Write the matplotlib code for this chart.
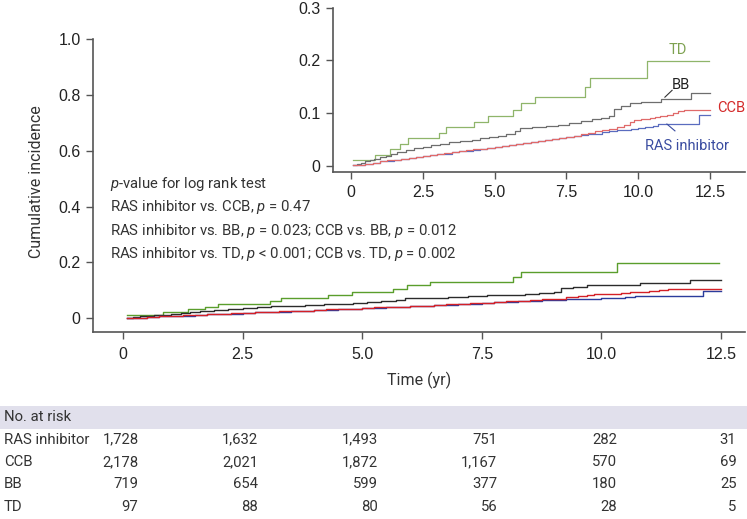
import matplotlib
matplotlib.use("Agg")
import matplotlib.pyplot as plt
import matplotlib.transforms as mtransforms

# ---------------- data ----------------
td_t = [0.08, 0.84, 1.36, 1.71, 1.99, 3.07, 3.31, 4.29, 4.78, 5.64, 5.93, 6.41, 8.15, 8.32, 10.32, 12.45]
td_v = [0.010, 0.020, 0.031, 0.041, 0.052, 0.062, 0.073, 0.083, 0.094, 0.106, 0.118, 0.131, 0.149, 0.167, 0.199, 0.199]

bb_t = [0.08, 0.2, 0.35, 0.5, 0.65, 0.8, 1.0, 1.2, 1.4, 1.6, 1.9, 2.2, 2.5, 2.8, 3.1, 3.4, 3.8, 4.2, 4.5, 4.8,
        5.1, 5.4, 5.7, 5.9, 6.3, 6.8, 7.2, 7.6, 8.0, 8.4, 8.7, 9.0, 9.15, 9.4, 9.7, 10.1, 10.8, 11.85, 12.5]
bb_v = [0.002, 0.004, 0.006, 0.008, 0.010, 0.012, 0.016, 0.019, 0.022, 0.026, 0.030, 0.033, 0.036, 0.039,
        0.042, 0.045, 0.047, 0.049, 0.052, 0.055, 0.057, 0.060, 0.066, 0.071, 0.073, 0.075, 0.078, 0.081,
        0.084, 0.088, 0.091, 0.095, 0.108, 0.113, 0.118, 0.120, 0.127, 0.137, 0.137]

ccb_t = [0.08, 0.25, 0.5, 0.75, 1.0, 1.25, 1.5, 1.75, 2.0, 2.25, 2.5, 2.75, 3.0, 3.25, 3.5, 3.75, 4.0, 4.25,
         4.5, 4.75, 5.0, 5.25, 5.5, 5.75, 6.0, 6.25, 6.5, 6.75, 7.0, 7.25, 7.5, 7.75, 8.0, 8.25, 8.5, 8.75,
         9.0, 9.25, 9.5, 9.7, 9.85, 10.1, 10.4, 10.6, 10.75, 11.0, 11.2, 11.4, 11.6, 12.5]
ccb_v = [0.001, 0.002, 0.004, 0.006, 0.008, 0.010, 0.011, 0.013, 0.015, 0.017, 0.019, 0.020, 0.022, 0.024,
         0.025, 0.027, 0.029, 0.031, 0.032, 0.034, 0.036, 0.038, 0.040, 0.041, 0.043, 0.045, 0.047, 0.049,
         0.051, 0.053, 0.055, 0.057, 0.060, 0.062, 0.065, 0.067, 0.070, 0.074, 0.078, 0.083, 0.086, 0.088,
         0.091, 0.093, 0.095, 0.096, 0.100, 0.103, 0.105, 0.105]

ras_t = [0.08, 0.25, 0.5, 0.75, 1.0, 1.25, 1.5, 1.75, 2.0, 2.25, 2.5, 2.75, 3.0, 3.25, 3.5, 3.75, 4.0, 4.25,
         4.5, 4.75, 5.0, 5.25, 5.5, 5.75, 6.0, 6.25, 6.5, 6.75, 7.0, 7.25, 7.5, 7.75, 8.0, 8.25, 8.5, 8.75,
         9.0, 9.25, 9.5, 9.75, 10.0, 10.25, 10.5, 10.7, 12.13, 12.5]
ras_v = [0.001, 0.002, 0.004, 0.006, 0.008, 0.009, 0.011, 0.013, 0.015, 0.016, 0.018, 0.020, 0.022, 0.023,
         0.025, 0.027, 0.028, 0.030, 0.032, 0.034, 0.035, 0.037, 0.039, 0.041, 0.043, 0.044, 0.046, 0.048,
         0.050, 0.052, 0.054, 0.056, 0.058, 0.060, 0.061, 0.063, 0.065, 0.067, 0.068, 0.070, 0.071, 0.073,
         0.075, 0.079, 0.096, 0.096]

x_ticks = [0, 2.5, 5.0, 7.5, 10.0, 12.5]
x_ticklabels = ["0", "2.5", "5.0", "7.5", "10.0", "12.5"]
main_yticks = [0, 0.2, 0.4, 0.6, 0.8, 1.0]
main_yticklabels = ["0", "0.2", "0.4", "0.6", "0.8", "1.0"]
inset_yticks = [0, 0.1, 0.2, 0.3]
inset_yticklabels = ["0", "0.1", "0.2", "0.3"]

groups = ["RAS inhibitor", "CCB", "BB", "TD"]
at_risk = {
    "RAS inhibitor": ["1,728", "1,632", "1,493", "751", "282", "31"],
    "CCB": ["2,178", "2,021", "1,872", "1,167", "570", "69"],
    "BB": ["719", "654", "599", "377", "180", "25"],
    "TD": ["97", "88", "80", "56", "28", "5"],
}
pvalue_lines = [
    r"$\it{p}$-value for log rank test",
    r"RAS inhibitor vs. CCB, $\it{p}$ = 0.47",
    r"RAS inhibitor vs. BB, $\it{p}$ = 0.023; CCB vs. BB, $\it{p}$ = 0.012",
    r"RAS inhibitor vs. TD, $\it{p}$ < 0.001; CCB vs. TD, $\it{p}$ = 0.002",
]

# ---------------- style ----------------
W, H = 747, 519
fig = plt.figure(figsize=(W / 100, H / 100), dpi=100)
plt.rcParams['mathtext.fontset'] = 'custom'
plt.rcParams['mathtext.it'] = 'Roboto:italic'
plt.rcParams['mathtext.rm'] = 'Roboto'

tick_font = "Liberation Sans"
text_font = "Roboto"
spine_col = "#555555"
txt_col = "#333333"

main_cols = {"TD": "#5a9e2c", "BB": "#2b2b2b", "CCB": "#d42027", "RAS inhibitor": "#2b3c9c"}
inset_cols = {"TD": "#8fb56a", "BB": "#6e6e6e", "CCB": "#e06a6a", "RAS inhibitor": "#5a6cbf"}
series = {"TD": (td_t, td_v), "BB": (bb_t, bb_v), "CCB": (ccb_t, ccb_v), "RAS inhibitor": (ras_t, ras_v)}
order = ["TD", "BB", "RAS inhibitor", "CCB"]


def fx(px):
    return px / W


def fy(py):
    return 1 - py / H


def style_axes(ax):
    for s in ["top", "right"]:
        ax.spines[s].set_visible(False)
    for s in ["left", "bottom"]:
        ax.spines[s].set_color(spine_col)
        ax.spines[s].set_linewidth(1.2)
    ax.tick_params(direction="out", length=5, width=1.0, color=spine_col,
                   labelsize=11.5, labelcolor="#222222", pad=4)
    for lab in ax.get_xticklabels() + ax.get_yticklabels():
        lab.set_fontfamily(tick_font)


# main axes
ax = fig.add_axes([fx(93), fy(332), fx(745) - fx(93), fy(39.3) - fy(332)])
ax.set_xlim(-0.63, 13.0)
ax.set_ylim(-0.05, 1.0)
ax.set_xticks(x_ticks)
ax.set_xticklabels(x_ticklabels)
ax.set_yticks(main_yticks)
ax.set_yticklabels(main_yticklabels)
style_axes(ax)
ax.tick_params(axis="x", pad=6)
for g in order:
    t, v = series[g]
    ax.plot(t, v, drawstyle="steps-post", color=main_cols[g], lw=1.0)
ax.set_xlabel("Time (yr)", fontfamily=text_font, fontsize=11.5, color=txt_col, labelpad=7)
fig.text(fx(37), fy(182), "Cumulative incidence", rotation=90, ha="center", va="center",
         fontfamily=text_font, fontsize=11.5, color=txt_col)

# p-value text
for i, line in enumerate(pvalue_lines):
    fig.text(fx(110), fy(184 + i * 23.4), line, ha="left", va="center",
             fontfamily=text_font, fontsize=10.7, color=txt_col)

# inset axes
ax2 = fig.add_axes([fx(333), fy(172.3), fx(745) - fx(333), fy(7.6) - fy(172.3)])
ax2.set_xlim(-0.63, 13.72)
ax2.set_ylim(-0.0126, 0.3)
ax2.set_xticks(x_ticks)
ax2.set_xticklabels(x_ticklabels)
ax2.set_yticks(inset_yticks)
ax2.set_yticklabels(inset_yticklabels)
style_axes(ax2)
ax2.patch.set_alpha(0)
for g in order:
    t, v = series[g]
    ax2.plot(t, v, drawstyle="steps-post", color=inset_cols[g], lw=0.9)

ax2.text(11.39, 0.219, "TD", color="#7ea251", fontfamily=text_font, fontsize=10.5, ha="center", va="center")
ax2.text(11.5, 0.153, "BB", color="#222222", fontfamily=text_font, fontsize=10.5, ha="center", va="center")
ax2.plot([10.93, 11.18], [0.130, 0.143], color="#333333", lw=0.8)
ax2.text(13.72, 0.109, "CCB", color="#d42a2a", fontfamily=text_font, fontsize=10.5, ha="right", va="center")
ax2.text(11.7, 0.037, "RAS inhibitor", color="#3a4ca0", fontfamily=text_font, fontsize=10.5, ha="center", va="center")
ax2.plot([11.0, 11.28], [0.079, 0.066], color="#3a4ca0", lw=0.8)

# at-risk table
band = plt.Rectangle((0, fy(428.5)), 1, fy(405.5) - fy(428.5), transform=fig.transFigure,
                     facecolor="#e1e0ec", edgecolor="none", zorder=0)
fig.patches.append(band)
fig.text(fx(4), fy(417), "No. at risk", ha="left", va="center", fontfamily=text_font,
         fontsize=10.7, color=txt_col)
trans = mtransforms.blended_transform_factory(ax.transData, fig.transFigure)
row_y = [439.5, 462, 484.5, 507]
for g, yy in zip(groups, row_y):
    fig.text(fx(4), fy(yy), g, ha="left", va="center", fontfamily=text_font, fontsize=10.7, color=txt_col)
    for xt, val in zip(x_ticks, at_risk[g]):
        fig.text(xt + 0.32, fy(yy), val, transform=trans, ha="right", va="center",
                 fontfamily=text_font, fontsize=10.7, color=txt_col)

fig.savefig("out.png", dpi=100)
